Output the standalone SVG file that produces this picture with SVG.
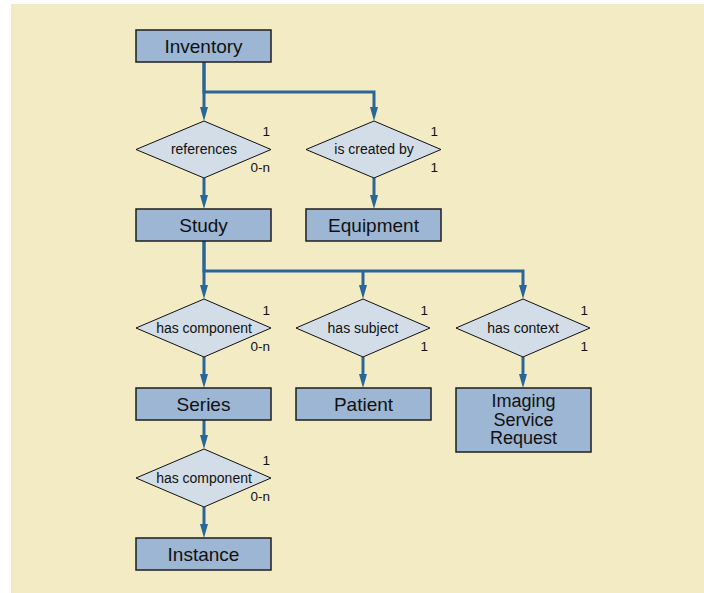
<svg xmlns="http://www.w3.org/2000/svg" width="704" height="593" viewBox="0 0 704 593">
<style>
.box{fill:#9cb6d3;stroke:#1e1e1e;stroke-width:1.5}
.dia{fill:#d2dde7;stroke:#111;stroke-width:1}
.bt{font-family:"Liberation Sans",Arial,sans-serif;font-size:19px;fill:#111;text-anchor:middle}
.bt2{font-family:"Liberation Sans",Arial,sans-serif;font-size:18px;fill:#111;text-anchor:middle}
.dt{font-family:"Liberation Sans",Arial,sans-serif;font-size:14px;fill:#111;text-anchor:middle}
.ct{font-family:"Liberation Sans",Arial,sans-serif;font-size:13.5px;fill:#111;text-anchor:end}
.ln{fill:none;stroke:#2a6699;stroke-width:3}
.ar{marker-end:url(#arr)}
</style>
<defs>
<marker id="arr" markerUnits="userSpaceOnUse" markerWidth="14" markerHeight="8" refX="2" refY="4" orient="auto">
<path d="M0,0 L14,4 L0,8 z" fill="#2a6699"/>
</marker>
</defs>
<rect x="11" y="4" width="693" height="589" fill="#f3ebc3"/>
<g id="connectors">
<path class="ln ar" d="M204,62 V92 H374 V109"/>
<path class="ln ar" d="M204,62 V109"/>
<path class="ln ar" d="M204,178 V197"/>
<path class="ln ar" d="M374,178 V197"/>
<path class="ln ar" d="M204,241 V271 H523 V287"/>
<path class="ln ar" d="M204,241 V287"/>
<path class="ln ar" d="M363,271 V287"/>
<path class="ln ar" d="M204,357 V376"/>
<path class="ln ar" d="M363,357 V376"/>
<path class="ln ar" d="M523,357 V376"/>
<path class="ln ar" d="M204,420 V437"/>
<path class="ln ar" d="M204,507 V526"/>
</g>
<g id="inventory"><rect class="box" x="136" y="30" width="135" height="32"/><text class="bt" x="203.5" y="53">Inventory</text></g>
<g id="references"><polygon class="dia" points="204,121 271,149.5 204,178 136,149.5"/><text class="dt" x="204" y="154">references</text><text class="ct" x="270" y="136">1</text><text class="ct" x="270" y="172">0-n</text></g>
<g id="is-created-by"><polygon class="dia" points="374,121 441,149.5 374,178 306,149.5"/><text class="dt" x="374" y="154">is created by</text><text class="ct" x="438" y="136">1</text><text class="ct" x="438" y="172">1</text></g>
<g id="study"><rect class="box" x="136" y="209" width="135" height="32"/><text class="bt" x="203.5" y="232">Study</text></g>
<g id="equipment"><rect class="box" x="306" y="209" width="135" height="32"/><text class="bt" x="373.5" y="232">Equipment</text></g>
<g id="has-component-1"><polygon class="dia" points="204,299 271,328 204,357 136,328"/><text class="dt" x="204" y="333">has component</text><text class="ct" x="270" y="315">1</text><text class="ct" x="270" y="351">0-n</text></g>
<g id="has-subject"><polygon class="dia" points="363,299 430,328 363,357 296,328"/><text class="dt" x="363" y="333">has subject</text><text class="ct" x="428" y="315">1</text><text class="ct" x="428" y="351">1</text></g>
<g id="has-context"><polygon class="dia" points="523,299 590,328 523,357 456,328"/><text class="dt" x="523" y="333">has context</text><text class="ct" x="588" y="315">1</text><text class="ct" x="588" y="351">1</text></g>
<g id="series"><rect class="box" x="136" y="388" width="135" height="32"/><text class="bt" x="203.5" y="411">Series</text></g>
<g id="patient"><rect class="box" x="296" y="388" width="135" height="32"/><text class="bt" x="363.5" y="411">Patient</text></g>
<g id="imaging-service-request"><rect class="box" x="456" y="388" width="135" height="64"/><text class="bt2" x="523.5" y="407">Imaging</text><text class="bt2" x="523.5" y="425.5">Service</text><text class="bt2" x="523.5" y="444">Request</text></g>
<g id="has-component-2"><polygon class="dia" points="204,449 271,478 204,507 136,478"/><text class="dt" x="204" y="483">has component</text><text class="ct" x="270" y="465">1</text><text class="ct" x="270" y="501">0-n</text></g>
<g id="instance"><rect class="box" x="136" y="538" width="135" height="32"/><text class="bt" x="203.5" y="561">Instance</text></g>
</svg>
